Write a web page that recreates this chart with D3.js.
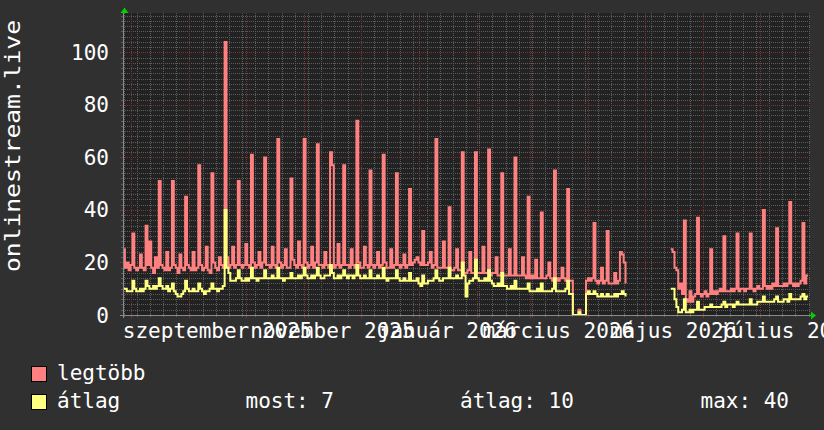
<!DOCTYPE html>
<html><head><meta charset="utf-8">
<script src="https://cdn.jsdelivr.net/npm/d3@7/dist/d3.min.js"></script>
<style>
html,body{margin:0;padding:0;background:#303030;}
svg{display:block;}
text{font-family:"DejaVu Sans Mono",monospace;fill:#ffffff;}
</style></head><body>
<svg id="c" width="824" height="430"></svg>
<script>
// ---------------- data ----------------
const startTime = "2025-07-27T17:00:00Z"; // first daily sample
const spanDays = 365;
const yTicks = [0, 20, 40, 60, 80, 100];
const labelMonths = ["2025-09-01", "2025-11-01", "2026-01-01", "2026-03-01", "2026-05-01", "2026-07-01"];
const labelTexts = ["szeptember 2025", "november 2025", "január 2026", "március 2026", "május 2026", "július 2026"];
const seriesNames = ["legtöbb", "átlag"];
const seriesColors = ["#ff8080", "#ffff80"];
const N = null;
// daily maxima ("legtöbb")
const legtobb = [
  25,18,20,17,19,31,18, 17,18,23,18,17,34,19, 28,18,16,22,18,51,19, 18,17,24,17,18,51,19,
  18,16,23,18,17,45,19, 18,17,24,17,18,57,19, 17,18,26,17,16,54,20, 18,17,22,19,18,104,22,
  18,19,26,18,19,51,19, 18,19,27,19,18,61,20, 18,19,24,18,20,60,19, 19,18,26,19,18,67,20,
  18,19,25,18,18,52,21, 19,18,28,19,18,67,20, 18,19,26,18,20,65,19, 19,18,24,19,18,62,57,
  18,19,27,18,19,57,19, 19,18,25,19,18,74,20, 18,18,26,19,18,55,19, 18,19,24,18,19,61,20,
  18,18,25,18,19,54,19, 18,19,23,18,19,48,19, 20,21,22,20,19,32,19, 19,20,24,18,19,67,18,
  18,18,28,18,18,41,17, 17,18,25,17,17,62,16, 16,17,24,16,16,62,16, 16,16,26,16,16,63,15,
  16,16,22,15,15,54,15, 15,15,25,15,15,60,15, 15,15,22,15,14,45,14, 15,14,21,14,14,39,14,
  14,15,20,14,13,55,14, 13,14,18,14,13,48,13, 13,0,0,0,2,0,0, 0,13,14,13,14,35,13,
  12,13,18,12,13,32,12, 12,12,16,12,13,24,23, 20,12,N,N,N,N,N, N,N,N,N,N,N,N,
  N,N,N,N,N,N,N, N,N,N,N,25,24,18, 17,10,12,8,36,6,5, 9,5,7,8,37,8,7,
  8,9,7,8,25,8,9, 8,9,10,9,30,9,9, 9,10,9,10,31,9,10, 10,9,10,10,31,10,9,
  10,11,10,10,40,11,10, 11,10,12,11,33,11,11, 11,12,11,12,43,12,11, 12,11,12,13,35,12,15
];
// daily averages ("átlag")
const atlag = [
  10,10,9,9,9,13,10, 9,9,10,9,10,13,11, 10,10,11,10,11,14,11, 10,10,11,9,10,12,9,
  8,7,7,8,9,13,10, 9,9,10,9,9,12,10, 9,8,9,9,10,12,10, 10,9,10,10,11,40,18,
  16,13,13,13,14,17,14, 13,13,14,13,14,18,14, 14,13,14,14,14,17,14, 14,14,15,14,14,18,14,
  14,13,14,14,14,16,14, 14,14,15,14,15,18,15, 14,14,15,14,15,18,15, 14,14,15,15,15,19,16,
  14,14,15,14,15,17,15, 14,15,15,14,15,19,15, 14,14,15,14,14,17,14, 14,14,15,14,14,18,14,
  13,14,14,14,14,17,14, 13,13,14,13,13,16,13, 13,13,14,12,11,15,12, 12,13,13,13,14,17,14,
  13,13,14,14,14,18,14, 14,14,15,14,14,20,15, 7,12,13,13,14,21,14, 13,13,13,14,13,17,13,
  12,11,11,12,11,16,11, 11,10,10,11,10,13,10, 10,10,10,10,10,12,9, 9,9,9,10,9,12,9,
  9,9,9,9,10,14,9, 9,9,9,9,10,13,8, 8,0,0,0,1,0,0, 0,8,9,8,8,9,8,
  7,7,8,7,7,8,7, 7,7,8,7,8,8,9, 8,7,N,N,N,N,N, N,N,N,N,N,N,N,
  N,N,N,N,N,N,N, N,N,N,N,10,10,6, 3,1,1,2,6,1,1, 2,1,2,2,5,2,2,
  2,3,3,3,4,3,3, 3,3,3,4,5,3,4, 4,4,3,4,5,4,4, 4,4,4,4,6,4,4,
  4,5,5,5,7,5,5, 5,5,5,6,7,5,5, 5,6,6,5,8,6,6, 6,6,6,7,8,6,7
];
const gprintLabels = ["most: 7", "átlag: 10", "max: 40"];

// ---------------- layout ----------------
const P = {left: 123, right: 810, top: 13, bottom: 315};
const t0 = new Date(startTime);
const t1 = d3.utcDay.offset(t0, spanDays);
const x = d3.scaleUtc().domain([t0, t1]).range([P.left, P.right]);
const y = d3.scaleLinear().domain([0, 115]).range([P.bottom, P.top]);

const svg = d3.select("#c");
svg.append("rect").attr("width", 824).attr("height", 430).attr("fill", "#303030");
svg.append("rect").attr("x", P.left).attr("y", P.top).attr("width", P.right - P.left).attr("height", P.bottom - P.top).attr("fill", "#222222");

const gGrid = svg.append("g").attr("shape-rendering", "crispEdges");
const minorCol = "#5c5c5c", majorCol = "#7a3434";
const hMinor = d3.range(2, 115, 2).filter(v => v % 20 !== 0);
hMinor.forEach(v => {
  const yy = Math.round(y(v)) + 0.5;
  gGrid.append("line").attr("x1", P.left).attr("x2", P.right).attr("y1", yy).attr("y2", yy)
    .attr("stroke", minorCol).attr("stroke-dasharray", "1,1");
  gGrid.append("line").attr("x1", P.left - 2).attr("x2", P.left).attr("y1", yy).attr("y2", yy).attr("stroke", minorCol);
});
d3.utcMonday.range(t0, t1).forEach(d => {
  const xx = Math.round(x(d)) + 0.5;
  gGrid.append("line").attr("x1", xx).attr("x2", xx).attr("y1", P.top).attr("y2", P.bottom)
    .attr("stroke", minorCol).attr("stroke-dasharray", "1,1");
  gGrid.append("line").attr("x1", xx).attr("x2", xx).attr("y1", P.bottom - 2).attr("y2", P.bottom + 2).attr("stroke", minorCol);
});
yTicks.filter(v => v > 0).forEach(v => {
  const yy = Math.round(y(v)) + 0.5;
  gGrid.append("line").attr("x1", P.left).attr("x2", P.right).attr("y1", yy).attr("y2", yy)
    .attr("stroke", majorCol).attr("stroke-dasharray", "1,1");
  gGrid.append("line").attr("x1", P.left - 3).attr("x2", P.left + 1).attr("y1", yy).attr("y2", yy).attr("stroke", majorCol);
});
d3.utcMonth.range(t0, t1).forEach(d => {
  const xx = Math.round(x(d)) + 0.5;
  gGrid.append("line").attr("x1", xx).attr("x2", xx).attr("y1", P.top).attr("y2", P.bottom)
    .attr("stroke", majorCol).attr("stroke-dasharray", "1,1");
  gGrid.append("line").attr("x1", xx).attr("x2", xx).attr("y1", P.bottom - 2).attr("y2", P.bottom + 3).attr("stroke", majorCol);
});

// ---------------- series ----------------
function pts(arr) {
  const out = arr.map((v, i) => ({t: d3.utcDay.offset(t0, i), v}));
  out.push({t: d3.utcDay.offset(t0, arr.length), v: arr[arr.length - 1]});
  return out;
}
const line = d3.line().defined(d => d.v !== null).x(d => x(d.t)).y(d => y(d.v)).curve(d3.curveStepAfter);
[legtobb, atlag].forEach((arr, i) => {
  svg.append("path").datum(pts(arr)).attr("d", line).attr("fill", "none")
    .attr("stroke", seriesColors[i]).attr("stroke-width", 2).attr("stroke-linejoin", "miter");
});

// ---------------- axes ----------------
const gAx = svg.append("g").attr("shape-rendering", "crispEdges");
gAx.append("line").attr("x1", P.left - 3).attr("x2", P.right + 3).attr("y1", P.bottom + 0.5).attr("y2", P.bottom + 0.5).attr("stroke", "#8a8a8a");
gAx.append("line").attr("x1", P.left + 0.5).attr("x2", P.left + 0.5).attr("y1", P.bottom + 3).attr("y2", P.top - 3).attr("stroke", "#8a8a8a");
svg.append("path").attr("d", `M${P.left - 2.5},${P.top} L${P.left + 5.5},${P.top} L${P.left + 1.5},${P.top - 5.5} Z`).attr("fill", "#00d000");
svg.append("path").attr("d", `M${P.right + 1},${P.bottom - 3.5} L${P.right + 1},${P.bottom + 4.5} L${P.right + 6},${P.bottom + 0.5} Z`).attr("fill", "#00d000");

svg.append("g").selectAll("text").data(yTicks).join("text")
  .attr("x", 109).attr("y", d => y(d) + 7.5).attr("text-anchor", "end")
  .attr("font-size", 21).text(d => d);

svg.append("g").selectAll("text").data(labelMonths).join("text")
  .attr("x", d => x(d3.utcDay.offset(new Date(d + "T00:00:00Z"), 15)))
  .attr("y", 338).attr("text-anchor", "middle").attr("font-size", 21)
  .text((d, i) => labelTexts[i]);

svg.append("text").attr("transform", "translate(19.5,146) rotate(-90)")
  .attr("text-anchor", "middle").attr("font-size", 21)
  .attr("textLength", 252).attr("lengthAdjust", "spacingAndGlyphs").text("onlinestream.live");

// ---------------- legend ----------------
seriesNames.forEach((n, i) => {
  const yy = 366 + i * 28;
  svg.append("rect").attr("x", 31.5).attr("y", yy + 0.5).attr("width", 15).attr("height", 15)
    .attr("fill", seriesColors[i]).attr("stroke", "#000").attr("stroke-width", 1);
  svg.append("text").attr("x", 57).attr("y", yy + 14).attr("font-size", 21).text(n);
});
const gpX = [245.5, 460, 700.5];
gprintLabels.forEach((s, i) => {
  svg.append("text").attr("x", gpX[i]).attr("y", 408).attr("font-size", 21).text(s);
});
</script>
</body></html>
